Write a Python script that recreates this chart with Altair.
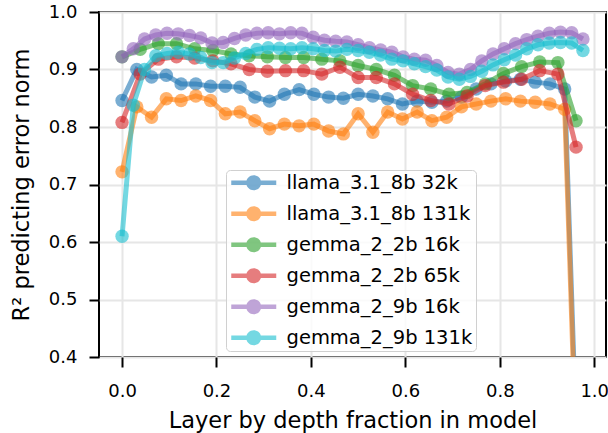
import altair as alt
import pandas as pd

series_names = ["llama_3.1_8b 32k", "llama_3.1_8b 131k", "gemma_2_2b 16k",
                "gemma_2_2b 65k", "gemma_2_9b 16k", "gemma_2_9b 131k"]
series_colors = ["#1f77b4", "#ff7f0e", "#2ca02c", "#d62728", "#9467bd", "#17becf"]
n_layers = [32, 32, 26, 26, 42, 42]

llama_32k = [0.846, 0.900, 0.887, 0.890, 0.875, 0.875, 0.871, 0.871, 0.869, 0.852,
             0.845, 0.857, 0.865, 0.857, 0.852, 0.850, 0.857, 0.854, 0.849, 0.840,
             0.845, 0.843, 0.845, 0.852, 0.866, 0.875, 0.880, 0.883, 0.878, 0.875,
             0.866, 0.10]
llama_131k = [0.722, 0.835, 0.817, 0.849, 0.846, 0.854, 0.846, 0.823, 0.826, 0.811,
              0.797, 0.805, 0.802, 0.805, 0.793, 0.788, 0.823, 0.791, 0.826, 0.814,
              0.826, 0.811, 0.817, 0.835, 0.840, 0.845, 0.849, 0.845, 0.843, 0.840,
              0.831, 0.06]
gemma2b_16k = [0.922, 0.935, 0.945, 0.945, 0.936, 0.933, 0.927, 0.924, 0.922, 0.921,
               0.921, 0.918, 0.915, 0.907, 0.900, 0.890, 0.872, 0.866, 0.857, 0.860,
               0.875, 0.893, 0.905, 0.913, 0.912, 0.811]
gemma2b_65k = [0.808, 0.892, 0.918, 0.922, 0.920, 0.915, 0.910, 0.900, 0.897, 0.898,
               0.898, 0.892, 0.904, 0.886, 0.886, 0.875, 0.857, 0.846, 0.840, 0.854,
               0.872, 0.878, 0.883, 0.898, 0.892, 0.765]
gemma9b_16k = [0.922, 0.936, 0.953, 0.960, 0.963, 0.962, 0.959, 0.955, 0.946, 0.947,
               0.954, 0.960, 0.963, 0.964, 0.962, 0.964, 0.963, 0.956, 0.951, 0.949,
               0.948, 0.943, 0.938, 0.934, 0.930, 0.922, 0.918, 0.916, 0.907, 0.895,
               0.892, 0.900, 0.915, 0.927, 0.936, 0.945, 0.952, 0.958, 0.963, 0.965,
               0.964, 0.953]
gemma9b_131k = [0.610, 0.838, 0.900, 0.924, 0.928, 0.930, 0.927, 0.921, 0.912, 0.912,
                0.920, 0.928, 0.935, 0.938, 0.937, 0.936, 0.938, 0.936, 0.933, 0.932,
                0.935, 0.933, 0.930, 0.925, 0.918, 0.915, 0.910, 0.905, 0.899, 0.887,
                0.883, 0.888, 0.897, 0.908, 0.917, 0.925, 0.936, 0.943, 0.946, 0.947,
                0.946, 0.933]
series_values = [llama_32k, llama_131k, gemma2b_16k, gemma2b_65k, gemma9b_16k, gemma9b_131k]

x_ticks = [0.0, 0.2, 0.4, 0.6, 0.8, 1.0]
y_ticks = [0.4, 0.5, 0.6, 0.7, 0.8, 0.9, 1.0]

FONT = "DejaVu Sans"

x_scale = alt.Scale(domain=[-0.0488, 1.025], nice=False, zero=False)
y_scale = alt.Scale(domain=[0.4, 1.0], nice=False, zero=False)

x_axis = alt.Axis(values=x_ticks, format=".1f", title="Layer by depth fraction in model",
                  titleFontSize=22.5, titleFontWeight="normal", titleFont=FONT,
                  titleColor="black", titleY=70.5, titleBaseline="alphabetic",
                  labelFontSize=18, labelFont=FONT, labelColor="black",
                  tickSize=10, tickWidth=2, tickColor="black", labelPadding=15,
                  domain=False, grid=True, gridColor="#e6e6e6", gridWidth=2)
y_axis = alt.Axis(values=y_ticks, format=".1f", title="R² predicting error norm",
                  titleFontSize=22.5, titleFontWeight="normal", titleFont=FONT,
                  titleColor="black", titleX=-70.5, titleBaseline="alphabetic",
                  labelFontSize=18, labelFont=FONT, labelColor="black",
                  tickSize=10, tickWidth=2, tickColor="black", labelPadding=12,
                  domain=False, grid=True, gridColor="#e6e6e6", gridWidth=2)

legend_symbol = "M-3,-0.3L3,-0.3L3,0.3L-3,0.3Z M0,-1A1,1,0,1,1,0,1A1,1,0,1,1,0,-1Z"
legend = alt.Legend(title=None, orient="none", legendX=127, legendY=158,
                    symbolType=legend_symbol, symbolSize=225, symbolOpacity=0.6,
                    symbolStrokeWidth=0, symbolOffset=15, labelOffset=23,
                    labelFontSize=19.5, labelFont=FONT, labelColor="black", labelLimit=0,
                    fillColor="rgba(255,255,255,0.8)", strokeColor="#d0d0d0",
                    cornerRadius=4, padding=3, rowPadding=10)
color_scale = alt.Scale(domain=series_names, range=series_colors)

layers = []
for name, color, n, vals in zip(series_names, series_colors, n_layers, series_values):
    df = pd.DataFrame({"x": [i / n for i in range(len(vals))], "y": vals, "series": name})
    base = alt.Chart(df)
    enc_x = alt.X("x:Q", scale=x_scale, axis=x_axis)
    enc_y = alt.Y("y:Q", scale=y_scale, axis=y_axis)
    line = base.mark_line(color=color, strokeWidth=5, opacity=0.6, clip=True).encode(
        x=enc_x, y=enc_y)
    pts = base.mark_circle(size=180, opacity=0.6, clip=True).encode(
        x=enc_x, y=enc_y,
        color=alt.Color("series:N", scale=color_scale, legend=legend))
    layers += [line, pts]

chart = alt.layer(*layers).properties(
    width=507, height=345,
    padding={"left": 99, "top": 12, "right": 2, "bottom": 76},
    autosize=alt.AutoSizeParams(type="none"),
    background="white",
).configure_view(stroke="black", strokeWidth=2)

chart.save("out.html", embed_options={"renderer": "svg", "actions": False})
